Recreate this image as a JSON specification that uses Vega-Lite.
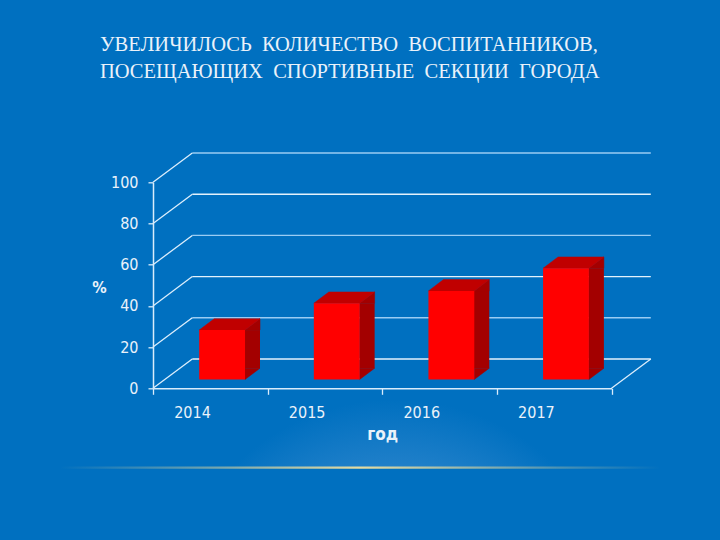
{
  "$schema": "https://vega.github.io/schema/vega-lite/v6.json",
  "width": 458.5,
  "height": 206,
  "autosize": {"type": "none"},
  "padding": {"left": 153, "top": 182.3, "right": 108.5, "bottom": 151.7},
  "background": "#0070C0",
  "config": {"view": {"stroke": null}},
  "title": {
    "text": ["УВЕЛИЧИЛОСЬ\u00a0 КОЛИЧЕСТВО\u00a0 ВОСПИТАННИКОВ,", "ПОСЕЩАЮЩИХ\u00a0 СПОРТИВНЫЕ\u00a0 СЕКЦИИ\u00a0 ГОРОДА"],
    "anchor": "start",
    "frame": "group",
    "dx": -53,
    "offset": 52,
    "baseline": "alphabetic",
    "font": "Liberation Serif",
    "fontSize": 20.5,
    "fontWeight": "normal",
    "color": "#EAF2FA",
    "lineHeight": 27
  },
  "datasets": {
    "bars": [
      {"year": "2014", "value": 24},
      {"year": "2015", "value": 37},
      {"year": "2016", "value": 43},
      {"year": "2017", "value": 54}
    ],
    "grid": [
      {"v": 0}, {"v": 20}, {"v": 40}, {"v": 60}, {"v": 80}, {"v": 100}
    ]
  },
  "layer": [
    {
      "data": {"values": [{}]},
      "mark": {
        "type": "rect",
        "xOffset": 17,
        "x2Offset": 8.5,
        "fill": {
          "gradient": "radial",
          "x1": 0.5, "y1": 0.95, "r1": 0,
          "x2": 0.5, "y2": 0.95, "r2": 0.6,
          "stops": [
            {"offset": 0, "color": "#6FAEE2"},
            {"offset": 0.45, "color": "#3389CF"},
            {"offset": 0.85, "color": "#0070C0"}
          ]
        }
      },
      "encoding": {
        "x": {"datum": "2014", "bandPosition": 0, "type": "nominal"},
        "x2": {"datum": "2017", "bandPosition": 1},
        "y": {"datum": 1.6, "type": "quantitative"},
        "y2": {"datum": -38.6}
      }
    },
    {
      "data": {"values": [{}]},
      "mark": {
        "type": "rect",
        "xOffset": -93,
        "x2Offset": 48.5,
        "fill": {
          "gradient": "linear",
          "x1": 0, "y1": 0, "x2": 1, "y2": 0,
          "stops": [
            {"offset": 0, "color": "rgba(230,215,150,0)"},
            {"offset": 0.5, "color": "rgba(240,225,160,0.95)"},
            {"offset": 1, "color": "rgba(230,215,150,0)"}
          ]
        }
      },
      "encoding": {
        "x": {"datum": "2014", "bandPosition": 0, "type": "nominal"},
        "x2": {"datum": "2017", "bandPosition": 1},
        "y": {"datum": -38.0, "type": "quantitative"},
        "y2": {"datum": -39.0}
      }
    },
    {
      "data": {"name": "grid"},
      "mark": {"type": "rule", "xOffset": 39.3, "x2Offset": 39.3, "yOffset": -29.3, "strokeWidth": 1.4},
      "encoding": {
        "x": {"datum": "2014", "bandPosition": 0, "type": "nominal"},
        "x2": {"datum": "2017", "bandPosition": 1},
        "y": {"field": "v", "type": "quantitative"},
        "color": {"condition": {"test": "datum.v % 40 === 0", "value": "#E3F1FC"}, "value": "#9ACCF3"}
      }
    },
    {
      "data": {"name": "grid"},
      "mark": {"type": "point", "shape": "M0,0L39.3,-29.3", "size": 4, "filled": false, "strokeWidth": 1.3, "opacity": 1, "color": "#DCEEFC"},
      "encoding": {
        "x": {"datum": "2014", "bandPosition": 0, "type": "nominal"},
        "y": {"field": "v", "type": "quantitative"}
      }
    },
    {
      "data": {"values": [{}]},
      "mark": {"type": "point", "shape": "M0,0L39.3,-29.3", "size": 4, "filled": false, "strokeWidth": 1.3, "opacity": 1, "color": "#DCEEFC"},
      "encoding": {
        "x": {"datum": "2017", "bandPosition": 1, "type": "nominal"},
        "y": {"datum": 0, "type": "quantitative"}
      }
    },
    {
      "data": {"name": "bars"},
      "mark": {"type": "bar", "width": 15.3, "xOffset": 42.05, "yOffset": -8.8, "y2Offset": -20.1, "color": "#A30000"},
      "encoding": {
        "x": {"field": "year", "type": "nominal"},
        "y": {"field": "value", "type": "quantitative"},
        "y2": {"datum": 0}
      }
    },
    {
      "data": {"name": "bars"},
      "mark": {"type": "point", "shape": "M34.7,-20.1L34.7,-8.8L49.7,-20.1Z", "size": 4, "filled": true, "opacity": 1, "color": "#A30000", "stroke": "#A30000", "strokeWidth": 0.5},
      "encoding": {
        "x": {"field": "year", "type": "nominal"},
        "y": {"datum": 0, "type": "quantitative"}
      }
    },
    {
      "data": {"name": "bars"},
      "mark": {"type": "point", "shape": "M34.7,-8.8L49.7,-20.1L49.7,-8.8Z", "size": 4, "filled": true, "opacity": 1, "color": "#A30000", "stroke": "#A30000", "strokeWidth": 0.5},
      "encoding": {
        "x": {"field": "year", "type": "nominal"},
        "y": {"field": "value", "type": "quantitative"}
      }
    },
    {
      "data": {"name": "bars"},
      "mark": {"type": "point", "shape": "M-11.1,-8.8L34.7,-8.8L49.7,-20.1L3.9,-20.1Z", "size": 4, "filled": true, "opacity": 1, "color": "#C00000", "stroke": "#C00000", "strokeWidth": 0.5},
      "encoding": {
        "x": {"field": "year", "type": "nominal"},
        "y": {"field": "value", "type": "quantitative"}
      }
    },
    {
      "data": {"name": "bars"},
      "mark": {"type": "bar", "width": {"band": 0.4}, "xOffset": 11.8, "yOffset": -8.8, "y2Offset": -8.8, "color": "#FF0000"},
      "encoding": {
        "x": {
          "field": "year",
          "type": "nominal",
          "scale": {"type": "band", "paddingInner": 0, "paddingOuter": 0},
          "axis": {
            "title": "год",
            "labelAngle": 0,
            "tickBand": "extent",
            "domainColor": "#D9ECFB",
            "domainWidth": 1.5,
            "tickColor": "#D9ECFB",
            "tickWidth": 1.3,
            "tickSize": 6,
            "labelFont": "Liberation Sans Narrow, DejaVu Sans Condensed, sans-serif",
            "labelFontSize": 16,
            "labelColor": "#EAF2FA",
            "labelBaseline": "alphabetic",
            "labelPadding": 23,
            "titleFont": "Liberation Sans Narrow, DejaVu Sans Condensed, sans-serif",
            "titleFontSize": 17,
            "titleFontWeight": "bold",
            "titleColor": "#EAF2FA",
            "titleBaseline": "alphabetic",
            "titleY": 50.7,
            "zindex": 1
          }
        },
        "y": {
          "field": "value",
          "type": "quantitative",
          "scale": {"domain": [0, 100], "nice": false},
          "axis": {
            "title": "%",
            "values": [0, 20, 40, 60, 80, 100],
            "grid": false,
            "domainColor": "#D9ECFB",
            "domainWidth": 1.5,
            "tickColor": "#D9ECFB",
            "tickWidth": 1.3,
            "tickSize": 5,
            "labelPadding": 10,
            "labelFont": "Liberation Sans Narrow, DejaVu Sans Condensed, sans-serif",
            "labelFontSize": 16,
            "labelColor": "#EAF2FA",
            "labelBaseline": "middle",
            "titleFont": "Liberation Sans Narrow, DejaVu Sans Condensed, sans-serif",
            "titleFontSize": 16,
            "titleFontWeight": "bold",
            "titleColor": "#EAF2FA",
            "titleAngle": 0,
            "titleAlign": "center",
            "titleBaseline": "middle",
            "titleX": -54,
            "titleY": 105,
            "zindex": 1
          }
        },
        "y2": {"datum": 0}
      }
    }
  ]
}
